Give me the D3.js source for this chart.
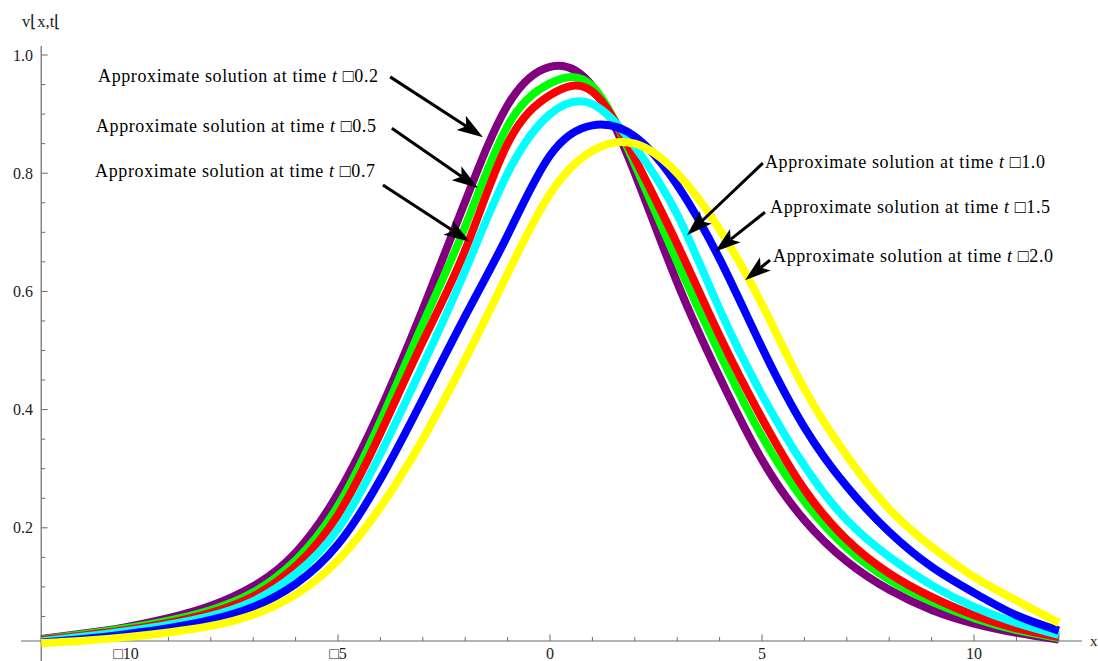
<!DOCTYPE html>
<html><head><meta charset="utf-8">
<script src="https://cdn.jsdelivr.net/npm/d3@7"></script>
<style>
body{margin:0;background:#fff}
svg{display:block}
text{font-family:"Liberation Serif","Times New Roman",serif}
</style>
</head><body>
<svg id="chart" width="1098" height="661"></svg>
<script>
// ---------- data ----------
const xValues = [-12,-11,-10,-9,-8,-7,-6,-5,-4,-3,-2,-1,0,1,2,3,4,5,6,7,8,9,10,11,12];
const seriesTimes = ["0.2","0.5","0.7","1.0","1.5","2.0"];
const seriesColors = ["#800080","#00ff00","#ff0000","#00ffff","#0000ff","#ffff00"];
const valuesT02 = [0.012,0.021,0.032,0.047,0.068,0.101,0.158,0.258,0.400,0.570,0.752,0.915,0.980,0.947,0.800,0.615,0.455,0.315,0.213,0.143,0.095,0.061,0.038,0.0225,0.011];
const valuesT05 = [0.011,0.020,0.030,0.043,0.061,0.091,0.145,0.237,0.380,0.545,0.710,0.880,0.952,0.947,0.815,0.650,0.495,0.355,0.245,0.166,0.112,0.075,0.047,0.027,0.0135];
const valuesT07 = [0.010,0.018,0.027,0.039,0.056,0.084,0.135,0.222,0.360,0.515,0.670,0.850,0.932,0.938,0.825,0.680,0.525,0.385,0.265,0.180,0.123,0.083,0.052,0.030,0.015];
const valuesT10 = [0.008,0.016,0.025,0.036,0.051,0.076,0.122,0.198,0.325,0.475,0.635,0.800,0.900,0.917,0.845,0.730,0.570,0.425,0.305,0.213,0.151,0.103,0.066,0.039,0.0186];
const valuesT15 = [0.006,0.012,0.020,0.030,0.044,0.066,0.105,0.172,0.282,0.418,0.558,0.695,0.830,0.881,0.862,0.780,0.655,0.505,0.370,0.270,0.193,0.134,0.090,0.052,0.026];
const valuesT20 = [0.005,0.009,0.015,0.023,0.034,0.053,0.087,0.145,0.235,0.350,0.485,0.630,0.765,0.838,0.850,0.800,0.705,0.578,0.435,0.322,0.232,0.168,0.117,0.077,0.039];
const allSeries = [valuesT02,valuesT05,valuesT07,valuesT10,valuesT15,valuesT20];

const xTickValues = [-10,-5,0,5,10];
const xTickLabels = ["\u25A110","\u25A15","0","5","10"];
const xMinorTicks = [-12,-11,-9,-8,-7,-6,-4,-3,-2,-1,1,2,3,4,6,7,8,9,11,12];
const yTickValues = [0.2,0.4,0.6,0.8,1.0];
const yTickLabels = ["0.2","0.4","0.6","0.8","1.0"];
const yMinorTicks = [0,0.05,0.1,0.15,0.25,0.3,0.35,0.45,0.5,0.55,0.65,0.7,0.75,0.85,0.9,0.95];

// annotation anchors in data units: label (x,v), arrow tail (x,v), arrow tip (x,v)
const annLabelX = [-10.66,-10.71,-10.73,5.07,5.19,5.26];
const annLabelV = [0.954,0.870,0.794,0.809,0.733,0.650];
const annTailX  = [-3.77,-3.73,-3.94,5.02,5.07,5.19];
const annTailV  = [0.963,0.876,0.780,0.817,0.734,0.653];
const annTipX   = [-1.58,-1.70,-1.89,3.23,3.89,4.60];
const annTipV   = [0.861,0.775,0.684,0.695,0.667,0.619];
const annTimes  = ["0.2","0.5","0.7","1.0","1.5","2.0"];

const axisOriginV = 0.0085;

// ---------- drawing ----------
const svg = d3.select("#chart");
const x = d3.scaleLinear().domain([-12,12]).range([41.2,1058.8]);
const y = d3.scaleLinear().domain([0,1]).range([646,55]);

const axisColor = "#6a6a6a";
const gAxes = svg.append("g");
gAxes.append("line").attr("x1",21).attr("x2",1082)
  .attr("y1",y(axisOriginV)).attr("y2",y(axisOriginV))
  .attr("stroke",axisColor).attr("stroke-width",1.2);
gAxes.append("line").attr("x1",x(-12)).attr("x2",x(-12))
  .attr("y1",46).attr("y2",661)
  .attr("stroke",axisColor).attr("stroke-width",1.2);

const xAxisY = y(axisOriginV);
gAxes.selectAll(".xmaj").data(xTickValues).join("line")
  .attr("x1",d=>x(d)).attr("x2",d=>x(d)).attr("y1",xAxisY).attr("y2",xAxisY-6.5)
  .attr("stroke",axisColor).attr("stroke-width",1);
gAxes.selectAll(".xmin").data(xMinorTicks).join("line")
  .attr("x1",d=>x(d)).attr("x2",d=>x(d)).attr("y1",xAxisY).attr("y2",xAxisY-4)
  .attr("stroke",axisColor).attr("stroke-width",1);
gAxes.selectAll(".xlab").data(xTickValues).join("text")
  .attr("x",d=>x(d)).attr("y",659).attr("text-anchor","middle")
  .attr("font-size",16).attr("fill","#222")
  .text((d,i)=>xTickLabels[i]);

const yAxisX = x(-12);
gAxes.selectAll(".ymaj").data(yTickValues).join("line")
  .attr("x1",yAxisX).attr("x2",yAxisX+6.5).attr("y1",d=>y(d)).attr("y2",d=>y(d))
  .attr("stroke",axisColor).attr("stroke-width",1);
gAxes.selectAll(".ymin").data(yMinorTicks).join("line")
  .attr("x1",yAxisX).attr("x2",yAxisX+4).attr("y1",d=>y(d)).attr("y2",d=>y(d))
  .attr("stroke",axisColor).attr("stroke-width",1);
gAxes.selectAll(".ylab").data(yTickValues).join("text")
  .attr("x",33).attr("y",d=>y(d)+5.5).attr("text-anchor","end")
  .attr("font-size",16).attr("fill","#222")
  .text((d,i)=>yTickLabels[i]);

svg.append("text").attr("x",22).attr("y",27).attr("font-size",16.5).attr("fill","#222")
  .text("v\u230Ax,t\u230A");
svg.append("text").attr("x",1090).attr("y",646).attr("font-size",15).attr("fill","#222")
  .text("x");

// curves
const line = d3.line().x((d,i)=>x(xValues[i])).y(d=>y(d)).curve(d3.curveNatural);
svg.append("g").selectAll("path").data(allSeries).join("path")
  .attr("d",d=>line(d))
  .attr("fill","none")
  .attr("stroke",(d,i)=>seriesColors[i])
  .attr("stroke-width",8)
  .attr("stroke-linejoin","round");

// annotations
const gAnn = svg.append("g");
annTimes.forEach((tv,i)=>{
  const t = gAnn.append("text")
    .attr("x",x(annLabelX[i])).attr("y",y(annLabelV[i]))
    .attr("font-size",18).attr("fill","#000")
    .attr("textLength",280).attr("lengthAdjust","spacing");
  t.append("tspan").text("Approximate solution at time ");
  t.append("tspan").attr("font-style","italic").text("t");
  t.append("tspan").text(" \u25A1" + tv);

  const x0 = x(annTailX[i]), y0 = y(annTailV[i]);
  const x1 = x(annTipX[i]),  y1 = y(annTipV[i]);
  const dx = x1-x0, dy = y1-y0, L = Math.hypot(dx,dy);
  const ux = dx/L, uy = dy/L, px = -uy, py = ux;
  const headL = 26, headW = 8.5, notch = 6;
  const bx = x1 - ux*headL, by = y1 - uy*headL;
  const nx = x1 - ux*(headL-notch), ny = y1 - uy*(headL-notch);
  gAnn.append("line").attr("x1",x0).attr("y1",y0).attr("x2",nx).attr("y2",ny)
    .attr("stroke","#000").attr("stroke-width",3);
  gAnn.append("path")
    .attr("d",`M${x1},${y1}L${bx+px*headW},${by+py*headW}L${nx},${ny}L${bx-px*headW},${by-py*headW}Z`)
    .attr("fill","#000");
});
</script>
</body></html>
